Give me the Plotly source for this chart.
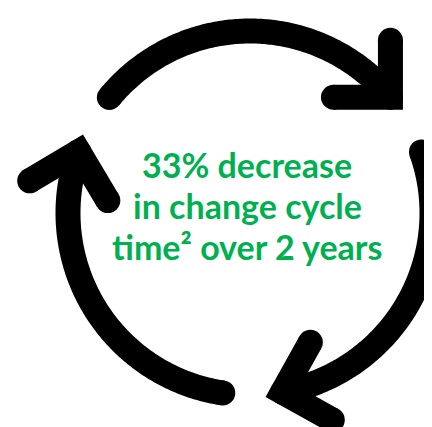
import numpy as np
import plotly.graph_objects as go

# ---- data (icon geometry) ----
center_x = 242
center_y = 205
radius = 182
arc_tail_deg = [140.6, 19.6, -98.6]   # start of each arc (math angle, deg)
arc_tip_deg = [39.5, -79.7, 160.3]    # arrow-tip of each arc
head_len = 57
head_half_deg = 45
head_turn_deg = -5.5
stroke = 25
text_lines = ["33% decrease", "in change cycle", "time² over 2 years"]
text_y = [156, 197, 238]
text_color = "#00B050"
ink = "#000000"

fig = go.Figure()

for a0, a1 in zip(arc_tail_deg, arc_tip_deg):
    if a1 > a0:
        a1 = a1 - 360  # arcs run clockwise
    t = np.radians(np.linspace(a0, a1, 160))
    xs = center_x + radius * np.cos(t)
    ys = center_y - radius * np.sin(t)
    fig.add_trace(go.Scatter(x=xs, y=ys, mode="lines",
                             line=dict(color=ink, width=stroke, simplify=False),
                             hoverinfo="skip", showlegend=False))
    # arrow head
    th = np.radians(a1)
    tipx = center_x + radius * np.cos(th)
    tipy = center_y - radius * np.sin(th)
    back = np.arctan2(-np.cos(th), -np.sin(th)) + np.radians(head_turn_deg)
    arms = [back - np.radians(head_half_deg), back + np.radians(head_half_deg)]
    hx = [tipx + head_len * np.cos(arms[0]), tipx, tipx + head_len * np.cos(arms[1])]
    hy = [tipy + head_len * np.sin(arms[0]), tipy, tipy + head_len * np.sin(arms[1])]
    fig.add_trace(go.Scatter(x=hx, y=hy, mode="lines+markers",
                             line=dict(color=ink, width=stroke),
                             marker=dict(color=ink, size=stroke, line=dict(width=0)),
                             hoverinfo="skip", showlegend=False))
    # round cap at tail
    fig.add_trace(go.Scatter(x=[xs[0]], y=[ys[0]], mode="markers",
                             marker=dict(color=ink, size=stroke, line=dict(width=0)),
                             hoverinfo="skip", showlegend=False))

for line, yy in zip(text_lines, text_y):
    fig.add_annotation(x=239, y=yy, xref="x", yref="y", text=line, showarrow=False,
                       xanchor="center", yanchor="middle",
                       font=dict(family="Lato", size=34, color=text_color, weight="bold"))

fig.update_xaxes(range=[0, 432], visible=False, fixedrange=True)
fig.update_yaxes(range=[427, 0], visible=False, fixedrange=True)
fig.update_layout(width=432, height=427, autosize=False,
                  margin=dict(l=0, r=0, t=0, b=0),
                  paper_bgcolor="white", plot_bgcolor="white")

fig.write_html("out.html", config={"displayModeBar": False})
